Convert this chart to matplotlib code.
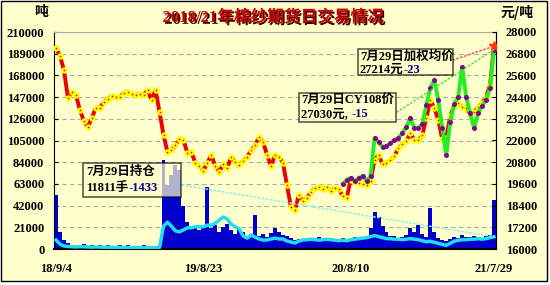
import numpy as np
import matplotlib
matplotlib.use('Agg')
import matplotlib.pyplot as plt
import matplotlib.patheffects as pe
from matplotlib.patches import Rectangle, ConnectionPatch

# x axis labels (trading-day index positions)
tick_labels = ['18/9/4', '19/8/23', '20/8/10', '21/7/29']
tick_index = [0, 37, 74, 110]

# weighted average price, yuan/ton (right axis)
wavg_price = [27115, 26670, 25900, 24350, 24680, 24520, 23690, 23080, 22750, 23240,
              23800, 23800, 24130, 24300, 24460, 24400, 24400, 24630, 24680, 24570,
              24520, 24570, 24520, 24790, 24240, 24790, 23580, 22300, 21360, 21470,
              21750, 22080, 22030, 21310, 21360, 20760, 20590, 20310, 20760, 21200,
              20590, 20260, 20700, 20480, 21090, 20810, 20650, 20870, 21090, 21470,
              21750, 22190, 21920, 21200, 20590, 21200, 21090, 20760, 19540, 18320,
              18160, 18990, 18650, 18820, 19150, 19370, 19430, 19320, 19430, 19210,
              19370, 19320, 18930, 18820, 19820, 19710, 19650, 19600, 19540, 19760,
              20920, 21200, 20700, 20760, 20920, 21140, 21590, 21810, 21970, 22420,
              22030, 22030, 22300, 23240, 24240, 23800, 23130, 22080, 22140, 23350,
              23910, 24070, 23850, 23800, 23470, 23580, 23850, 24070, 24400, 25070,
              27214]

# CY108 contract price, starts later
cy108_start = 72
cy108_price = [19600, 19820, 19930, 19760, 19930, 20040, 19760, 20040, 22140, 21920,
               21640, 21700, 21860, 22030, 22140, 22420, 22750, 23240, 22690, 22690,
               22910, 23960, 24900, 25350, 24240, 22690, 21200, 23020, 24020, 24400,
               26070, 24400, 23520, 22690, 23520, 23910, 24240, 24900, 27030]

# daily volume, lots (left axis)
volume = [52000, 16000, 9000, 6000,
          4000, 3000, 3500, 4500, 3000, 3500, 2500, 4000, 3000, 3500, 3000, 2500,
          3500, 3000, 4000, 3000, 2500, 3000, 3500, 3000, 2500, 3000, 3500,
          86000, 62000, 72000, 81000, 76000, 42000, 26000, 20000, 22000, 18000,
          22000, 60000, 20000, 23000, 16000, 21000, 24000, 18000, 15000, 19000,
          16000, 11000, 14500, 33000, 12500, 14500, 11500, 15500, 20000, 16000,
          13500, 12500, 10500,
          9000, 10000, 8500, 11000, 9500, 10000, 12000, 9000, 10500, 11000,
          9500, 10000, 11000, 9500, 10000, 12000, 11000, 10500, 12000, 20000,
          36000, 31000, 22000, 16000, 13000, 12500, 11000, 12000, 14000, 20000,
          16000, 23000, 15000, 12000, 40000, 16000, 11000, 9000, 7500, 10000,
          12000, 11000, 13500, 12000, 11500, 13000, 12000, 11000, 12500, 14000,
          47000]

# open interest, lots (left axis)
open_int = [8700, 4800, 2900,
            2500, 2200, 2000, 2300, 2100, 2000, 1800, 2000, 1900, 1700, 1800, 1600,
            1500, 1600, 1500, 1400, 1500, 1400, 1300, 1400, 1300, 1400, 1300, 1500,
            22000, 26000, 22000, 17500, 16500, 18500, 20500, 20500, 21500, 21500,
            21500, 23000, 23000, 25000, 28000, 31000, 29000, 24000, 21500, 19500,
            12500, 10500, 13500, 11500, 9700, 8700, 8700, 9700, 10500, 9700,
            9700, 7700, 6800, 5800, 7700, 8700,
            9000, 9500, 9000, 8500, 9000, 9500, 9000, 8500, 8000, 8500,
            8000, 9000, 9500, 10000, 10500, 11000, 12000, 13000, 12000, 11000,
            10000, 10000, 9500, 9500, 9000, 9500, 10000, 9500, 9000, 8000,
            7000, 7500, 6500, 5500, 4500, 3500, 5500, 7500, 8500, 9000,
            9000, 9500, 9500, 10000, 9500, 10000, 11000, 11811]

W, H = 550, 285
BG = '#FFFFCC'
num_font = dict(family=['Liberation Serif', 'Noto Sans CJK SC'], weight='bold')

fig = plt.figure(figsize=(W / 100, H / 100), dpi=100)
fig.patch.set_facecolor('white')
fig.add_artist(Rectangle((0.5 / W, 1 - 280.5 / H), 546.5 / W, 280 / H,
                         transform=fig.transFigure, facecolor=BG,
                         edgecolor='black', lw=1, zorder=-1))


def fx(x):
    return x / W


def fy(y):
    return 1 - y / H


ax = fig.add_axes([fx(54), fy(249), 442 / W, 217 / H])
ax.set_facecolor('none')
idx = np.arange(len(volume))

ax.bar(idx, volume, width=1.0, color='#0000CC', linewidth=0, zorder=2)
ax.plot(idx, open_int, color='#22DDEE', lw=2.5, zorder=3, solid_joinstyle='round')
ax.set_ylim(0, 210000)
ax.set_yticks(range(0, 210001, 21000))
ax.set_xlim(-0.5, len(volume) - 0.5)
ax.set_xticks(tick_index)
ax.set_xticklabels(tick_labels, **num_font, fontsize=9)
ax.grid(axis='y', color='#AAAAAA', ls=(0, (4, 3)), lw=0.8, zorder=1)
ax.tick_params(axis='y', direction='in', length=3, pad=7)
ax.tick_params(axis='x', direction='in', length=3, pad=10)
for lab in ax.get_yticklabels():
    lab.set_fontproperties(dict(num_font, size=9))
ax.spines['top'].set_color('#AAAAAA')
ax.spines['bottom'].set_linewidth(1.5)

ax2 = ax.twinx()
ax2.set_ylim(16000, 28000)
ax2.set_yticks(range(16000, 28001, 1200))
ax2.tick_params(axis='y', direction='in', length=3, pad=7)
for lab in ax2.get_yticklabels():
    lab.set_fontproperties(dict(num_font, size=9))
for s in ['top', 'left', 'bottom']:
    ax2.spines[s].set_visible(False)

ax2.plot(idx, wavg_price, color='#EE0000', lw=2.8, zorder=3)
ax2.plot(idx, wavg_price, ls='none', marker='o', ms=4.6, mfc='#FFFF00', mec='none', zorder=4)
ax2.plot(idx, wavg_price, ls='none', marker='o', ms=1.2, mfc='#DD0000', mec='none', zorder=5)

cy_idx = np.arange(cy108_start, cy108_start + len(cy108_price))
ax2.plot(cy_idx, cy108_price, color='#22EE22', lw=2.8, zorder=6)
ax2.plot(cy_idx, cy108_price, ls='none', marker='o', ms=3.6, mfc='#880088', mec='none', zorder=7)
ax2.plot(idx[-1], wavg_price[-1], marker='*', ms=7, color='#FF3300', zorder=8)

# title and units
fig.text(fx(273), fy(18), '2018/21年棉纱期货日交易情况', ha='center', va='center',
         color='#CC0000', fontsize=12, **num_font,
         path_effects=[pe.withSimplePatchShadow(offset=(1.3, -1.3),
                                                shadow_rgbFace='#330000', alpha=1)])
fig.text(fx(41), fy(12), '吨', ha='center', va='center', fontsize=10,
         family='Noto Sans CJK SC', weight='bold')
fig.text(fx(517), fy(12), '元/吨', ha='center', va='center', fontsize=10,
         family='Noto Sans CJK SC', weight='bold')

renderer = fig.canvas.get_renderer()


def rich(x, y, parts):
    for s, c in parts:
        t = fig.text(fx(x), fy(y), s, color=c, ha='left', va='center',
                     fontsize=9, **num_font, zorder=11)
        x = t.get_window_extent(renderer=renderer).x1


def box(x0, y0, x1, y1):
    fig.add_artist(Rectangle((fx(x0), fy(y1)), (x1 - x0) / W, (y1 - y0) / H,
                             transform=fig.transFigure, facecolor=BG, alpha=0.7,
                             edgecolor='black', lw=1.1, zorder=10))


box(83, 163, 181, 197)
rich(86, 172, [('7月29日持仓', 'black')])
rich(86, 188, [('11811手', 'black'), ('-1433', '#000080')])

box(299, 93, 396, 122)
rich(301, 100, [('7月29日CY108价', 'black')])
rich(301, 114, [('27030元, ', 'black'), ('-15', '#000080')])

box(358, 49, 453, 75)
rich(360, 57, [('7月29日加权均价', 'black')])
rich(360, 70, [('27214元', 'black'), ('-23', '#000080')])

for start, target, axis, col in [((182, 185), (idx[-1], open_int[-1]), ax, '#88EEEE'),
                                 ((397, 112), (idx[-1], cy108_price[-1]), ax2, '#55DD55'),
                                 ((453, 60), (idx[-1], wavg_price[-1]), ax2, '#EE5555')]:
    fig.add_artist(ConnectionPatch(xyA=(fx(start[0]), fy(start[1])), coordsA=fig.transFigure,
                                   xyB=target, coordsB=axis.transData,
                                   color=col, ls=':', lw=1.1, zorder=9))

fig.savefig('out.png', dpi=100, facecolor=fig.get_facecolor())
